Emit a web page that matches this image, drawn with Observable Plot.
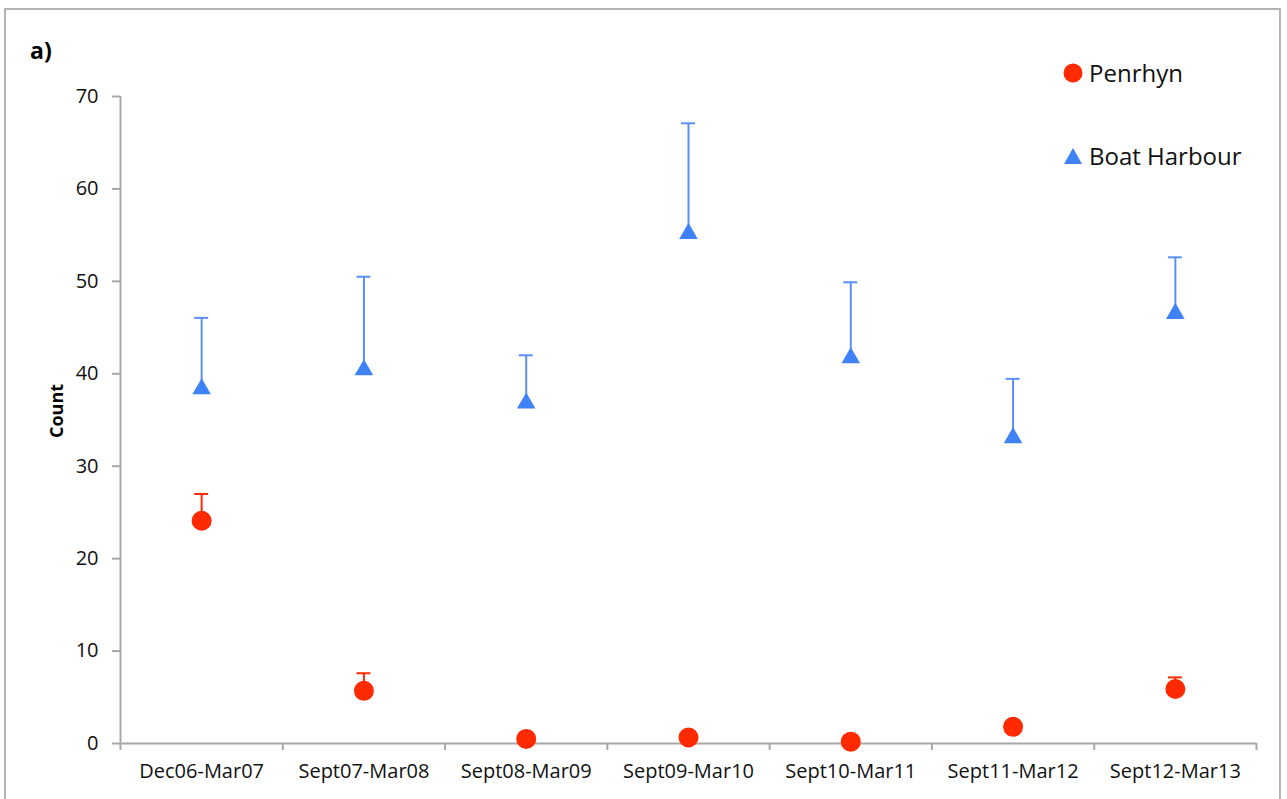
<!DOCTYPE html>
<html>
<head>
<meta charset="utf-8">
<script src="https://cdn.jsdelivr.net/npm/d3@7"></script>
<script src="https://cdn.jsdelivr.net/npm/@observablehq/plot@0.6"></script>
<style>
  html, body { margin: 0; padding: 0; background: #fff; overflow: hidden; }
  #wrap { position: relative; width: 1287px; height: 799px; font-family: "Open Sans", sans-serif; }
  #wrap svg.plot { position: absolute; left: 0; top: 0; }
  #border { position: absolute; left: 4px; top: 8px; width: 1277px; height: 820px; border: 2px solid #b4b4b4; box-sizing: border-box; }
  #panel { position: absolute; left: 30px; top: 34px; font-size: 23px; font-weight: bold; color: #000; }
  .leg { position: absolute; left: 1062px; display: flex; align-items: center; font-size: 24px; color: #111; }
  .leg svg { margin-right: 5px; }
</style>
</head>
<body>
<div id="wrap">
  <div id="border"></div>
  <div id="panel">a)</div>
  <div id="legend"></div>
</div>
<script>
// Survey periods (x categories)
const periods = ["Dec06-Mar07", "Sept07-Mar08", "Sept08-Mar09", "Sept09-Mar10", "Sept10-Mar11", "Sept11-Mar12", "Sept12-Mar13"];

// Mean counts and upper error limits per site
const penrhynMean  = [24.1, 5.7, 0.5, 0.65, 0.2, 1.8, 5.9];
const penrhynUpper = [27.0, 7.6, 0.9, 1.0, 0.5, 2.3, 7.15];
const boatMean     = [38.65, 40.7, 37.1, 55.45, 42.0, 33.35, 46.8];
const boatUpper    = [46.05, 50.5, 42.0, 67.1, 49.9, 39.45, 52.6];

// Y axis ticks
const yTicks = [0, 10, 20, 30, 40, 50, 60, 70];

const seriesNames = ["Penrhyn", "Boat Harbour"];
const red = "#ff2a00";
const blue = "#3f82f5";
const barBlue = "#5b8ff5";
const axisGray = "#a8a8a8";

// Category i sits in the middle of the unit interval [i, i+1]
const penrhyn = periods.map((p, i) => ({period: p, pos: i + 0.5, mean: penrhynMean[i], upper: penrhynUpper[i]}));
const boat = periods.map((p, i) => ({period: p, pos: i + 0.5, mean: boatMean[i], upper: boatUpper[i]}));

const capHalf = 0.043;

const chart = Plot.plot({
  width: 1287,
  height: 799,
  marginLeft: 120,
  marginRight: 31,
  marginTop: 96,
  marginBottom: 56,
  x: {domain: [0, periods.length]},
  y: {domain: [0, 70]},
  style: {fontFamily: "'Open Sans', sans-serif", fontSize: "20px", color: "#111", background: "transparent"},
  marks: [
    // axis lines
    Plot.ruleX([0], {stroke: axisGray, strokeWidth: 2}),
    Plot.ruleY([0], {stroke: axisGray, strokeWidth: 2}),
    Plot.axisY({ticks: yTicks, tickSize: 8, tickPadding: 14, stroke: axisGray, strokeWidth: 2, strokeOpacity: 1, label: null, fontSize: 20}),
    // category boundary ticks
    Plot.axisX({ticks: d3.range(periods.length + 1), tickSize: 7, tickFormat: () => "", stroke: axisGray, strokeWidth: 2, strokeOpacity: 1, label: null}),
    // category labels
    Plot.axisX({ticks: penrhyn.map(d => d.pos), tickSize: 0, tickPadding: 20, tickFormat: v => periods[Math.floor(v)], label: null, fontSize: 20}),
    Plot.text(["Count"], {frameAnchor: "left", rotate: -90, dx: -63, dy: 18, fontWeight: "bold", fontSize: 18, fill: "#000"}),
    // Boat Harbour error bars and markers
    Plot.ruleX(boat, {x: "pos", y1: "mean", y2: "upper", stroke: barBlue, strokeWidth: 2}),
    Plot.ruleY(boat, {y: "upper", x1: d => d.pos - capHalf, x2: d => d.pos + capHalf, stroke: barBlue, strokeWidth: 2}),
    Plot.dot(boat, {x: "pos", y: "mean", symbol: "triangle", r: 6.9, fill: blue, stroke: "none", dy: 2.6}),
    // Penrhyn error bars and markers
    Plot.ruleX(penrhyn, {x: "pos", y1: "mean", y2: "upper", stroke: red, strokeWidth: 2}),
    Plot.ruleY(penrhyn, {y: "upper", x1: d => d.pos - capHalf, x2: d => d.pos + capHalf, stroke: red, strokeWidth: 2}),
    Plot.dot(penrhyn, {x: "pos", y: "mean", r: 10, fill: red, stroke: "none"})
  ]
});
chart.classList.add("plot");
document.getElementById("wrap").insertBefore(chart, document.getElementById("panel"));

// Legend
const legend = document.getElementById("legend");
const legendItems = [
  {name: seriesNames[0], top: 56, marker: `<circle cx="11" cy="11" r="9.5" fill="${red}"/>`},
  {name: seriesNames[1], top: 139, marker: `<path d="M11 3 L20 19 L2 19 Z" fill="${blue}"/>`}
];
for (const item of legendItems) {
  const el = document.createElement("div");
  el.className = "leg";
  el.style.top = item.top + "px";
  el.innerHTML = `<svg width="22" height="22" viewBox="0 0 22 22">${item.marker}</svg><span>${item.name}</span>`;
  legend.appendChild(el);
}
</script>
</body>
</html>
